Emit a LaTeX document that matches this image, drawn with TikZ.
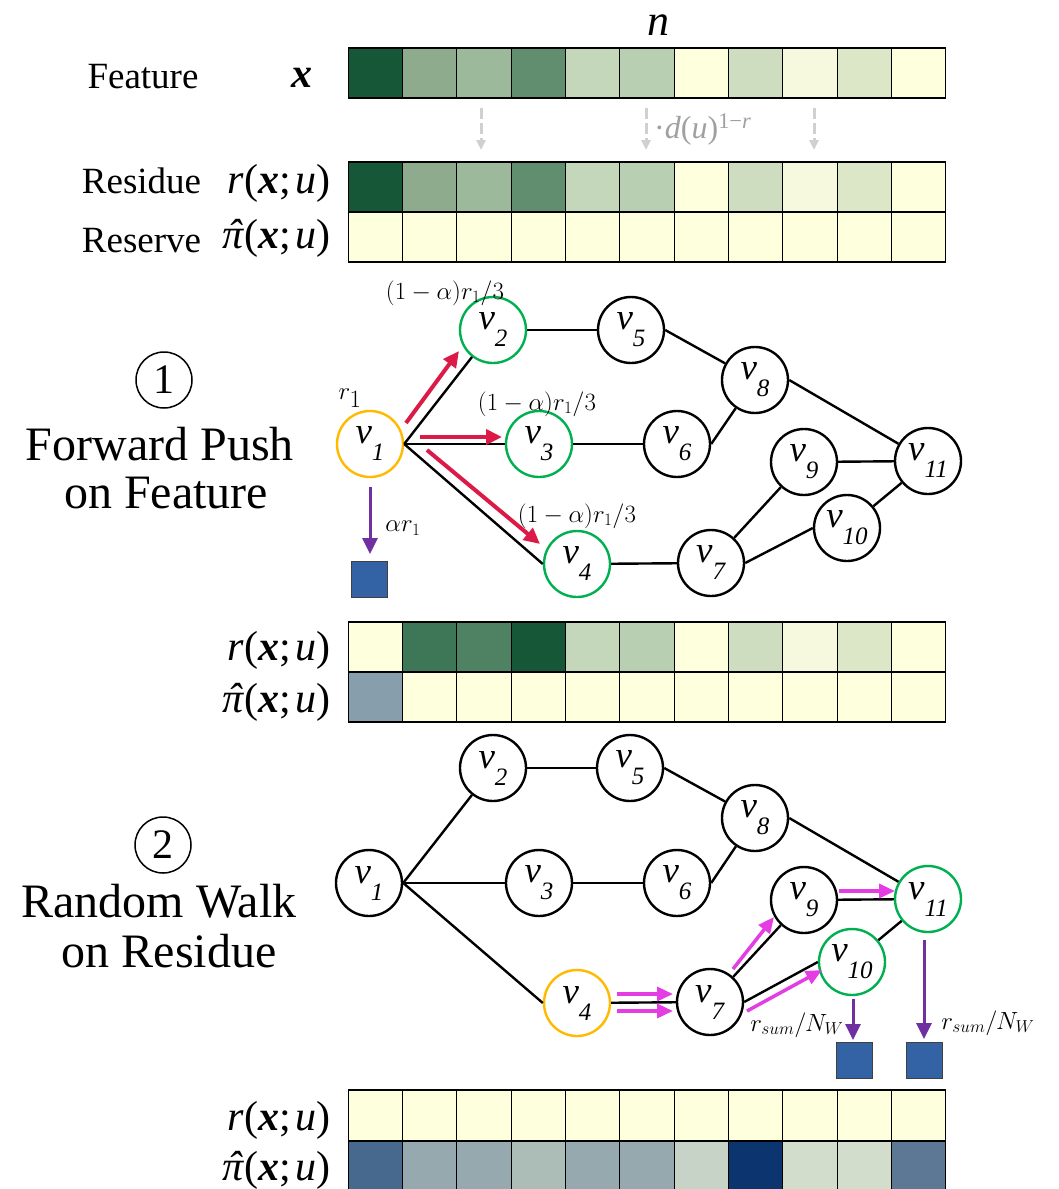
\documentclass[tikz,border=0pt]{standalone}
\usepackage[no-math]{fontspec}
\setmainfont{LiberationSerif}[Extension=.ttf, UprightFont=*-Regular, ItalicFont=*-Italic, BoldFont=*-Bold, BoldItalicFont=*-BoldItalic]
\usetikzlibrary{arrows.meta}

\definecolor{yl}{HTML}{FEFFDD}
\definecolor{ga}{HTML}{165738}
\definecolor{gb}{HTML}{8EAC8D}
\definecolor{gc}{HTML}{9CB99B}
\definecolor{gd}{HTML}{608E6E}
\definecolor{ge}{HTML}{C4D7BB}
\definecolor{gf}{HTML}{B9CFB1}
\definecolor{gh}{HTML}{CEDCBF}
\definecolor{gi}{HTML}{F6F9DE}
\definecolor{gj}{HTML}{DCE7C8}
\definecolor{ha}{HTML}{3E7758}
\definecolor{hb}{HTML}{4F8262}
\definecolor{pa}{HTML}{879FAC}
\definecolor{ba}{HTML}{48698E}
\definecolor{bb}{HTML}{96A9AE}
\definecolor{bc}{HTML}{ACBDB8}
\definecolor{bd}{HTML}{C6D3C6}
\definecolor{be}{HTML}{0C3570}
\definecolor{bf}{HTML}{D3DDCC}
\definecolor{bg}{HTML}{5C7894}
\definecolor{orangeC}{HTML}{FFBA00}
\definecolor{greenC}{HTML}{00B050}
\definecolor{redC}{HTML}{DC1A47}
\definecolor{magC}{HTML}{E33DE3}
\definecolor{purC}{HTML}{7030A0}
\definecolor{blueC}{HTML}{3363A5}
\definecolor{grayT}{HTML}{A0A0A0}
\definecolor{grayA}{HTML}{D0D0D0}

\newcommand\fs[1]{\fontsize{#1}{#1}\selectfont}
\newcommand\vv[1]{\textit{v}\raisebox{-17pt}{\fs{25}\textit{#1}}}
\newcommand\pihat{\ooalign{\textit{π}\cr\hidewidth\kern0.12em\textit{ˆ}\hidewidth\cr}}
\newcommand\rxu{\textit{r}(\textbf{\textit{x}};\kern5pt\textit{u})}
\newcommand\pxu{\pihat(\textbf{\textit{x}};\kern5pt\textit{u})}
\newcommand\cellrow[3]{%
  \foreach \c [count=\i from 0] in {#3} {%
    \filldraw[fill=\c, draw=black, line width=1pt] ({348+54.36*\i}, #1) rectangle ++(54.36, #2);}%
  \draw[line width=2pt] (348,#1) -- (946,#1);
  \draw[line width=2pt] (348,#1+#2) -- (946,#1+#2);}

\begin{document}
\begin{tikzpicture}[x=1pt,y=-1pt,
  gn/.style={circle, draw=black, line width=2.4pt, fill=white, minimum size=66pt, inner sep=0pt, font=\fs{37}},
  gno/.style={gn, draw=orangeC},
  gng/.style={gn, draw=greenC},
  gedge/.style={line width=2.4pt},
  redar/.style={draw=redC, line width=4pt, -{Triangle[length=16pt,width=15pt]}},
  magar/.style={draw=magC, line width=3.5pt, -{Triangle[length=16pt,width=14pt]}},
  purar/.style={draw=purC, line width=3pt, -{Triangle[length=16pt,width=15pt]}},
  bsq/.style={draw=black!75, line width=1pt, fill=blueC, minimum size=36pt, inner sep=0pt},
  grayar/.style={draw=grayA, line width=3pt, dash pattern=on 11pt off 4pt, -{Triangle[length=10pt,width=9pt]}},
  lbl/.style={inner sep=0pt},
  circnum/.style={circle, draw=black, line width=1.5pt, minimum size=56pt, inner sep=0pt, font=\fs{42}}]
\useasboundingbox (0,0) rectangle (1058,1189);

% ---------- tables ----------
\cellrow{48}{50}{ga,gb,gc,gd,ge,gf,yl,gh,gi,gj,yl}
\cellrow{161.5}{50}{ga,gb,gc,gd,ge,gf,yl,gh,gi,gj,yl}
\cellrow{211.5}{50}{yl,yl,yl,yl,yl,yl,yl,yl,yl,yl,yl}
\cellrow{621.5}{50}{yl,ha,hb,ga,ge,gf,yl,gh,gi,gj,yl}
\cellrow{671.5}{50.5}{pa,yl,yl,yl,yl,yl,yl,yl,yl,yl,yl}
\cellrow{1090}{50.5}{yl,yl,yl,yl,yl,yl,yl,yl,yl,yl,yl}
\cellrow{1140.5}{50}{ba,bb,bb,bc,bb,bb,bd,be,bf,bf,bg}

% ---------- table labels ----------
\node[lbl, anchor=base] (tn) at (658,35) {\fs{44}\textit{n}};
\node[lbl, anchor=base] (tfeat) at (143,88) {\fs{37}Feature};
\node[lbl, anchor=base] (tx) at (302,87) {\fs{42}\textbf{\textit{x}}};
\node[lbl, anchor=base] (tres) at (141.5,193) {\fs{37}Residue};
\node[lbl, anchor=base east] (tr1) at (331,193) {\fs{42}\rxu};
\node[lbl, anchor=base] (tresv) at (141.5,252) {\fs{37}Reserve};
\node[lbl, anchor=base east] (tp1) at (331,248) {\fs{42}\pxu};
\node[lbl, anchor=base east] (tr2) at (331,660) {\fs{42}\rxu};
\node[lbl, anchor=base east] (tp2) at (331,712) {\fs{42}\pxu};
\node[lbl, anchor=base east] (tr3) at (331,1130) {\fs{42}\rxu};
\node[lbl, anchor=base east] (tp3) at (331,1180) {\fs{42}\pxu};

% dashed arrows
\coordinate (da1) at (481,108); \coordinate (db1) at (481,150);
\coordinate (da2) at (646,108); \coordinate (db2) at (646,150);
\coordinate (da3) at (814,108); \coordinate (db3) at (814,150);
\draw[grayar] (da1) -- (db1);
\draw[grayar] (da2) -- (db2);
\draw[grayar] (da3) -- (db3);
\node[lbl, anchor=base west, text=grayT] (dlab) at (654,138) {\fs{32}·\textit{d}(\textit{u})\textsuperscript{1−\textit{r}}};

% ---------- side titles ----------
\node[circnum] (c1) at (164,380) {1};
\node[lbl, anchor=base] (t1a) at (160,460) {\fs{48}Forward Push};
\node[lbl, anchor=base] (t1b) at (166,508) {\fs{48}on Feature};
\node[circnum] (c2) at (163,845) {2};
\node[lbl, anchor=base] (t2a) at (159,917) {\fs{48}Random Walk};
\node[lbl, anchor=base] (t2b) at (169,967) {\fs{48}on Residue};

% ---------- graph 1 ----------
\node[gno] (a1) at (370,444) {\vv{1}};
\node[gng] (a2) at (493,330) {\vv{2}};
\node[gng] (a3) at (539,444) {\vv{3}};
\node[gng] (a4) at (577,564) {\vv{4}};
\node[gn] (a5) at (631,330) {\vv{5}};
\node[gn] (a6) at (677,444) {\vv{6}};
\node[gn] (a7) at (711,563) {\vv{7}};
\node[gn] (a8) at (755,380) {\vv{8}};
\node[gn] (a9) at (804,462) {\vv{9}};
\node[gn] (a10) at (847,528) {\vv{10}};
\node[gn] (a11) at (928,461) {\vv{11}};

\draw[gedge] (a1.east) -- (a2);
\draw[gedge] (a1.east) -- (a3.west);
\draw[gedge] (a1.east) -- (a4.west);
\draw[gedge] (a2) -- (a5);
\draw[gedge] (a3) -- (a6);
\draw[gedge] (a5.east) -- (a8);
\draw[gedge] (a6.east) -- (a8);
\draw[gedge] (a8.east) -- (a11);
\draw[gedge] (a4) -- (a7);
\draw[gedge] (a7) -- (a9);
\draw[gedge] (a7.east) -- (a10.west);
\draw[gedge] (a9) -- (a11);
\draw[gedge] (a10) -- (a11);

\coordinate (ra1s) at (406,423); \coordinate (ra1e) at (459,351);
\coordinate (ra2s) at (420,437); \coordinate (ra2e) at (502,437);
\coordinate (ra3s) at (427,450); \coordinate (ra3e) at (540,544);
\draw[redar] (ra1s) -- (ra1e);
\draw[redar] (ra2s) -- (ra2e);
\draw[redar] (ra3s) -- (ra3e);

\node[lbl] (l1) at (445,293) {\fs{26}$(1-\alpha)r_1/3$};
\node[lbl] (l2) at (537,404) {\fs{26}$(1-\alpha)r_1/3$};
\node[lbl] (l3) at (577,516) {\fs{26}$(1-\alpha)r_1/3$};
\node[lbl] (lr1) at (350,398) {\fs{44}$r_1$};
\node[lbl] (lar) at (403,528) {\fs{27}$\alpha r_1$};

\node[bsq] (sq1) at (369.5,579) {};
\coordinate (pa1) at (370,487); \coordinate (pb1) at (370,554);
\draw[purar] (pa1) -- (pb1);

% ---------- graph 2 ----------
\node[gn] (b1) at (369,883) {\vv{1}};
\node[gn] (b2) at (493,768) {\vv{2}};
\node[gn] (b3) at (539,883) {\vv{3}};
\node[gno] (b4) at (577,1003) {\vv{4}};
\node[gn] (b5) at (630,768) {\vv{5}};
\node[gn] (b6) at (677,883) {\vv{6}};
\node[gn] (b7) at (710,1002) {\vv{7}};
\node[gn] (b8) at (755,818) {\vv{8}};
\node[gn] (b9) at (804,900) {\vv{9}};
\node[gng] (b10) at (852,962) {\vv{10}};
\node[gng] (b11) at (928,899) {\vv{11}};

\draw[gedge] (b1.east) -- (b2);
\draw[gedge] (b1.east) -- (b3.west);
\draw[gedge] (b1.east) -- (b4.west);
\draw[gedge] (b2) -- (b5);
\draw[gedge] (b3) -- (b6);
\draw[gedge] (b5.east) -- (b8);
\draw[gedge] (b6.east) -- (b8);
\draw[gedge] (b8.east) -- (b11);
\draw[gedge] (b4) -- (b7);
\draw[gedge] (b7) -- (b9);
\draw[gedge] (b7.east) -- (b10.west);
\draw[gedge] (b9) -- (b11);
\draw[gedge] (b10) -- (b11);

\coordinate (m1s) at (617,994); \coordinate (m1e) at (673,994);
\coordinate (m2s) at (617,1011); \coordinate (m2e) at (673,1011);
\coordinate (m3s) at (733,969); \coordinate (m3e) at (774,917);
\coordinate (m4s) at (839,891); \coordinate (m4e) at (895,891);
\coordinate (m5s) at (747,1011); \coordinate (m5e) at (822,970);
\draw[magar] (m1s) -- (m1e);
\draw[magar] (m2s) -- (m2e);
\draw[magar] (m3s) -- (m3e);
\draw[magar] (m4s) -- (m4e);
\draw[magar] (m5s) -- (m5e);

\node[bsq] (sq2) at (854,1060) {};
\node[bsq] (sq3) at (924,1060) {};
\coordinate (pa2) at (853,999); \coordinate (pb2) at (853,1040);
\coordinate (pa3) at (924,940); \coordinate (pb3) at (924,1039);
\draw[purar] (pa2) -- (pb2);
\draw[purar] (pa3) -- (pb3);
\node[lbl] (ls1) at (797,1025) {\fs{27}$r_{sum}/N_W$};
\node[lbl] (ls2) at (988,1023) {\fs{27}$r_{sum}/N_W$};
\end{tikzpicture}
\end{document}
